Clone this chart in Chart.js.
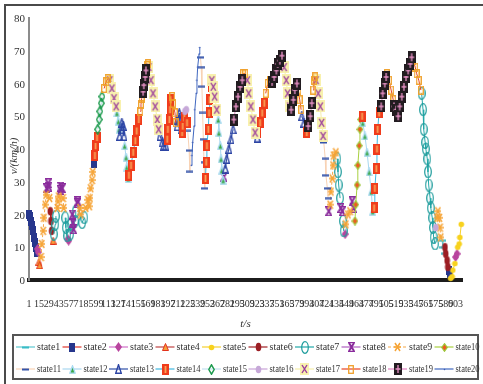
<!DOCTYPE html>
<html>
<head>
<meta charset="utf-8">
<script src="https://cdn.jsdelivr.net/npm/chart.js@4.4.1/dist/chart.umd.min.js"></script>
<style>
  html, body { margin: 0; padding: 0; background: #fff; }
  #wrap { position: relative; width: 483px; height: 384px; overflow: hidden; }
  canvas { display: block; }
  .ytick { position: absolute; font: 11px "Liberation Serif"; line-height: 14px; color: #333; text-align: right; width: 20px; }
</style>
</head>
<body>
<div id="wrap"><canvas id="speedChart" width="483" height="384"></canvas></div>
<script>
// state labels
const stateNames = ['state1', 'state2', 'state3', 'state4', 'state5', 'state6', 'state7', 'state8', 'state9', 'state10',
  'state11', 'state12', 'state13', 'state14', 'state15', 'state16', 'state17', 'state18', 'state19', 'state20'];

// x tick labels (sample index) and y ticks
const tickLabels = [1, 15, 29, 43, 57, 71, 85, 99, 113, 127, 141, 155, 169, 183, 197, 211, 225, 239, 253, 267, 281, 295,
  309, 323, 337, 351, 365, 379, 393, 407, 421, 435, 449, 463, 477, 491, 505, 519, 533, 547, 561, 575, 589, 603];
const yTicks = [0, 10, 20, 30, 40, 50, 60, 70, 80];

// speed curve split into runs, each run belongs to one state
const runState = [2, 3, 4, 9, 8, 9, 6, 4, 7, 9, 8, 9, 7, 3, 7, 8, 7, 8, 9, 7, 9, 2, 14, 15, 18, 17, 12, 13, 12, 14,
  18, 19, 18, 17, 13, 14, 18, 13, 14, 16, 14, 11, 20, 11, 14, 17, 12, 8, 13, 19, 18, 17, 13, 14, 18, 19, 17, 19, 18,
  13, 14, 19, 18, 17, 11, 8, 9, 7, 8, 7, 3, 9, 8, 10, 14, 12, 14, 19, 18, 19, 18, 19, 18, 7, 16, 9, 1, 6, 2, 5, 3, 5];

const runTime = [
  [1, 2, 4, 5, 7, 8, 9, 11, 12], [13, 14], [15, 16], [18, 19, 21, 22, 24, 25], [26, 28, 29], [30], [31, 32, 33], [35],
  [36, 38, 39], [41, 42, 43], [45, 46, 48], [49, 50], [52, 53, 55], [56, 57], [59, 60], [62, 63, 64], [66, 67], [69, 70],
  [73, 74], [76, 79], [81, 84, 86, 87, 88, 90, 91], [93], [94, 95, 97], [98, 100, 101, 103, 104], [107, 110, 112],
  [115, 118, 121, 124], [125, 127, 128], [129, 131, 132, 134, 135], [136, 138, 139, 141], [142, 145, 148, 151, 153, 156],
  [158, 159, 160], [162, 163, 165, 166], [168, 169], [170, 173, 176, 179, 182, 184], [186, 189, 191, 194],
  [196, 197, 199, 200, 201], [203, 204, 207, 208], [210, 211, 213, 214, 216], [217, 218, 220], [221, 223], [224],
  [225, 227, 228], [230, 231, 232, 234, 235, 237, 238, 239, 241, 242], [243, 244, 245, 246, 247, 248, 249],
  [250, 251, 252, 254, 255, 256, 258], [259, 261, 263, 266], [268, 269, 271, 272, 273, 275], [276],
  [278, 280, 283, 286, 289], [290, 293, 296, 299, 302], [303, 306], [309, 311, 314, 317, 320], [323],
  [324, 327, 330, 333], [335, 338, 341], [344, 347, 350, 352, 355, 358], [361, 364, 366, 369], [371, 374, 376, 379],
  [381, 383, 385], [386, 389, 392], [393], [395, 398, 400], [402, 403, 405], [406, 409, 412, 414, 416],
  [417, 419, 420, 422, 423], [424], [426, 427, 429, 430, 431, 434], [436, 437, 438, 440], [441, 443], [444, 445], [447],
  [448, 451, 454], [457, 459], [461, 462, 464, 465, 467, 468, 469], [471], [472, 475, 478, 481, 484, 486],
  [488, 489, 491, 492, 493, 495], [498, 500, 503, 505], [506, 509, 512, 515], [516, 519], [520],
  [522, 524, 527, 530, 533, 536, 539, 541], [543, 546, 548, 551, 554],
  [555, 557, 558, 560, 561, 563, 564, 565, 567, 568, 570, 571, 572, 574], [575], [577, 578, 580, 581, 582],
  [584, 585, 587], [588, 589, 591, 592], [594, 595], [596, 598, 599, 602], [603, 605], [606, 608, 609, 611]
];

const runSpeed = [
  [20, 19.5, 18, 16.5, 15, 13, 11.5, 10, 8.5], [9.5, 8.5], [5.5, 4.5], [7, 11, 15, 19, 23, 26], [28, 29.5, 28.5], [25],
  [21, 18, 15], [12], [14, 17, 19.5], [22, 24, 25.5], [27.5, 28.5, 28], [25, 22], [19, 16, 13.5], [12.5, 12], [14, 17],
  [20, 17.5, 15.5], [18, 21], [23.5, 24], [22, 20], [17.5, 19], [22, 24.5, 22.5, 25, 28, 30.5, 33], [35.5],
  [38, 41, 43.5], [46, 49, 51.5, 54, 56], [58.5, 60.5, 61.5], [61, 58.5, 55.5, 53], [51, 48.5, 46], [44, 46, 48, 47, 44],
  [41, 37.5, 34.5, 31], [32, 35, 39, 42.5, 45.5, 49], [51.5, 53.5, 55.5], [57.5, 59.5, 62, 64], [65.5, 66],
  [65, 61, 57, 53, 49, 46], [44, 42, 41, 41], [43, 46, 49, 52, 55], [56, 54, 51, 48], [47, 49, 51, 49, 46],
  [45, 47, 49.5], [51.5, 52], [48], [45.5, 39.5, 33], [35, 38, 42, 47, 52, 57, 61, 65, 69, 71],
  [68, 65, 59, 51, 43, 36, 28], [31, 36, 41, 46, 51, 55, 59], [61, 59, 56, 52], [49, 45, 41, 37, 33.5, 30.5], [31.5],
  [34, 37, 40, 43, 46], [49, 53, 56, 59, 61], [63, 63], [61, 57, 53, 49, 45], [43.5], [45, 48, 51, 54], [57, 60, 61],
  [60.5, 62, 64, 66, 67, 68.5], [65, 61, 57, 53], [52, 55, 58, 60], [58, 55, 52], [50, 48, 46], [45], [47, 50, 54],
  [58, 61, 62], [61, 57, 53, 48, 44], [42, 37, 32, 28, 25], [21], [23, 27, 31, 35, 38, 39], [37, 33, 29, 25], [22, 21],
  [18, 15], [14], [17, 20, 21], [24, 22], [18, 23, 29, 35, 41, 46, 49], [50], [48, 44, 39, 33, 27, 21],
  [22, 28, 34, 40, 46, 51], [53, 57, 60, 62], [63, 61, 58, 55], [53, 52], [50], [50, 53, 56, 59, 62, 64, 66, 68],
  [67, 65, 63, 61, 58], [57, 52, 46, 42, 40, 37, 33, 29, 25, 22, 19, 16, 13, 11], [16], [19, 21, 19, 16, 13],
  [12, 10, 8], [10, 8, 6, 4], [3, 2], [0.5, 1, 3, 5], [7, 8], [10, 11, 13, 17]
];

const lineColors = ['#5cc8d0', '#e03a30', '#d070c8', '#c04444', '#f6d030', '#a02024', '#22a8a8', '#b060c0', '#f6a848',
  '#a8d040', '#f8d2b4', '#a8d8f0', '#3050a8', '#40b8e0', '#c4e2f0', '#c8a2d8', '#f6eeaa', '#e84422', '#e282c2', '#4068c0'];

// small canvases used as point markers
function marker(w, h, paint) {
  const c = document.createElement('canvas');
  c.width = w;
  c.height = h;
  paint(c.getContext('2d'), w, h);
  return c;
}
function ellipse(g, w, h) {
  g.beginPath();
  g.ellipse(w / 2, h / 2, Math.max(w / 2 - 0.7, 0.8), Math.max(h / 2 - 0.7, 0.8), 0, 0, Math.PI * 2);
}
function diamond(g, w, h, m) {
  g.beginPath();
  g.moveTo(w / 2, m); g.lineTo(w - m, h / 2); g.lineTo(w / 2, h - m); g.lineTo(m, h / 2);
  g.closePath();
}
function tri(g, w, h, m) {
  g.beginPath();
  g.moveTo(w / 2, m); g.lineTo(w - m, h - m); g.lineTo(m, h - m);
  g.closePath();
}
function cross(g, w, h, m) {
  g.beginPath();
  g.moveTo(m, m); g.lineTo(w - m, h - m);
  g.moveTo(w - m, m); g.lineTo(m, h - m);
  g.stroke();
}

const markers = [
  marker(7, 3, g => { g.fillStyle = '#38bcc6'; g.fillRect(0, 0.5, 7, 2); }),
  marker(6, 9, g => { g.fillStyle = '#26368c'; g.fillRect(0, 0, 6, 9); }),
  marker(7, 10, (g, w, h) => { diamond(g, w, h, 0); g.fillStyle = '#b8449e'; g.fill(); }),
  marker(7, 8, (g, w, h) => { tri(g, w, h, 0.5); g.fillStyle = '#f6a03a'; g.fill(); g.strokeStyle = '#e2321c'; g.lineWidth = 1; g.stroke(); }),
  marker(7, 7, (g, w, h) => { ellipse(g, w, h); g.fillStyle = '#f8d21e'; g.fill(); }),
  marker(7, 10, (g, w, h) => { ellipse(g, w, h); g.fillStyle = '#9c1e24'; g.fill(); }),
  marker(8, 13, (g, w, h) => { ellipse(g, w, h); g.strokeStyle = '#1e9c9c'; g.lineWidth = 1.2; g.stroke(); }),
  marker(7, 10, (g, w, h) => {
    g.strokeStyle = '#8a2c9c'; g.lineWidth = 2; cross(g, w, h, 1);
    g.lineWidth = 1.3; g.beginPath(); g.moveTo(0, 0.7); g.lineTo(w, 0.7); g.moveTo(0, h - 0.7); g.lineTo(w, h - 0.7); g.stroke();
  }),
  marker(7, 10, (g, w, h) => {
    g.strokeStyle = '#f6a436'; g.lineWidth = 1.5; cross(g, w, h, 1);
    g.beginPath(); g.moveTo(0, h / 2); g.lineTo(w, h / 2); g.stroke();
  }),
  marker(7, 9, (g, w, h) => { diamond(g, w, h, 0.7); g.fillStyle = '#ee5a22'; g.fill(); g.strokeStyle = '#9cc83a'; g.lineWidth = 1.2; g.stroke(); }),
  marker(7, 3, g => { g.fillStyle = '#3454aa'; g.fillRect(0, 0.5, 7, 2); }),
  marker(7, 9, (g, w, h) => { tri(g, w, h, 0.8); g.fillStyle = '#3aa844'; g.fill(); g.strokeStyle = '#aadaf2'; g.lineWidth = 1.3; g.stroke(); }),
  marker(7, 10, (g, w, h) => { tri(g, w, h, 0.7); g.strokeStyle = '#2c44a4'; g.lineWidth = 1.4; g.stroke(); }),
  marker(7, 11, (g, w, h) => { g.fillStyle = '#f03c1c'; g.fillRect(0, 0, w, h); g.fillStyle = '#f8a458'; g.fillRect(2.6, 2, 1.8, h - 4); }),
  marker(7, 11, (g, w, h) => { diamond(g, w, h, 0.8); g.strokeStyle = '#1c9a4c'; g.lineWidth = 1.5; g.stroke(); }),
  marker(7, 9, (g, w, h) => { ellipse(g, w, h); g.fillStyle = '#c6a8d8'; g.fill(); }),
  marker(9, 12, (g, w, h) => { g.fillStyle = '#f8f1ae'; g.fillRect(0, 0, w, h); g.strokeStyle = '#9a3a9c'; g.lineWidth = 1.4; cross(g, w, h, 2); }),
  marker(6, 9, (g, w, h) => { g.strokeStyle = '#f0a02a'; g.lineWidth = 1.3; g.strokeRect(0.7, 0.7, w - 1.4, h - 1.4); }),
  marker(8, 12, (g, w, h) => {
    g.fillStyle = '#221c20'; g.fillRect(0, 0, w, h);
    g.strokeStyle = '#ea92c8'; g.lineWidth = 1.3; g.beginPath();
    g.moveTo(w / 2, 2); g.lineTo(w / 2, h - 2); g.moveTo(1.5, h / 2); g.lineTo(w - 1.5, h / 2); g.stroke();
  }),
  marker(3, 3, (g, w, h) => { ellipse(g, w, h); g.fillStyle = '#3a5ab4'; g.fill(); })
];

// one dataset per state, runs separated by null gaps
const datasets = stateNames.map((name, k) => {
  const s = k + 1;
  const pts = [];
  runState.forEach((rs, r) => {
    if (rs !== s) return;
    if (pts.length) pts.push({ x: runTime[r][0] - 0.5, y: null });
    runTime[r].forEach((tt, j) => pts.push({ x: tt, y: runSpeed[r][j] }));
  });
  return {
    label: name,
    data: pts,
    borderColor: lineColors[k],
    backgroundColor: lineColors[k],
    borderWidth: 1,
    borderDash: s === 9 ? [3, 2] : [],
    pointStyle: markers[k],
    pointRadius: 3,
    pointHoverRadius: 3,
    tension: 0,
    spanGaps: false,
    clip: false,
    order: 21 - s
  };
});

const decorations = {
  id: 'decorations',
  beforeDraw(chart) {
    const ctx = chart.ctx;
    ctx.save();
    ctx.fillStyle = '#fff';
    ctx.fillRect(0, 0, chart.width, chart.height);
    // outer frame
    ctx.strokeStyle = '#4a4a4a';
    ctx.lineWidth = 2;
    ctx.beginPath();
    ctx.moveTo(5, chart.height);
    ctx.lineTo(5, 5);
    ctx.lineTo(chart.width, 5);
    ctx.stroke();
    ctx.restore();
  },
  afterDraw(chart) {
    const ctx = chart.ctx;
    const area = chart.chartArea;
    ctx.save();

    // axis titles
    ctx.fillStyle = '#333';
    ctx.font = 'italic 11px "Liberation Serif"';
    ctx.textAlign = 'center';
    ctx.textBaseline = 'middle';
    ctx.fillText('t/s', (area.left + area.right) / 2, area.bottom + 44);
    ctx.save();
    ctx.translate(14, (area.top + area.bottom) / 2 + 7);
    ctx.rotate(-Math.PI / 2);
    ctx.fillText('v/(km/h)', 0, 0);
    ctx.restore();

    // legend box
    ctx.strokeStyle = '#555';
    ctx.lineWidth = 2;
    ctx.strokeRect(13, 335, 465, 44);
    ctx.font = '10px "Liberation Serif"';
    ctx.textAlign = 'left';
    stateNames.forEach((name, k) => {
      const col = k % 10;
      const row = Math.floor(k / 10);
      const x0 = 16 + col * 46.5;
      const y = row ? 369 : 347;
      ctx.strokeStyle = lineColors[k];
      ctx.lineWidth = 1.2;
      ctx.setLineDash(k === 8 ? [3, 2] : []);
      ctx.beginPath();
      ctx.moveTo(x0, y);
      ctx.lineTo(x0 + 19, y);
      ctx.stroke();
      ctx.setLineDash([]);
      const m = markers[k];
      ctx.drawImage(m, Math.round(x0 + 9.5 - m.width / 2), Math.round(y - m.height / 2));
      ctx.fillStyle = '#333';
      ctx.fillText(name, x0 + 21, y + 0.5, 24);
    });
    ctx.restore();
  }
};

const chart = new Chart(document.getElementById('speedChart'), {
  type: 'line',
  data: { datasets },
  options: {
    responsive: false,
    animation: false,
    events: [],
    layout: { padding: { top: 18, right: 21, left: 0, bottom: 0 } },
    plugins: {
      legend: { display: false },
      tooltip: { enabled: false }
    },
    scales: {
      x: {
        type: 'linear',
        min: 1,
        max: 612,
        grid: { display: false, drawTicks: false },
        border: { display: true, color: '#1c1c1c', width: 4 },
        ticks: {
          autoSkip: false,
          maxRotation: 0,
          minRotation: 0,
          padding: 18,
          color: '#333',
          font: { family: 'Liberation Serif', size: 10 },
          callback: v => String(v)
        },
        afterBuildTicks: scale => { scale.ticks = tickLabels.map(v => ({ value: v })); },
        afterFit: scale => { scale.height = 104; }
      },
      y: {
        min: 0,
        max: 80,
        grid: { display: false, drawTicks: false },
        border: { display: true, color: '#8c8c8c', width: 2 },
        ticks: { display: false },
        afterBuildTicks: scale => { scale.ticks = yTicks.map(v => ({ value: v })); },
        afterFit: scale => { scale.width = 29; }
      }
    }
  },
  plugins: [decorations]
});

// y tick labels as text placed from the y scale
const wrap = document.getElementById('wrap');
const yScale = chart.scales.y;
yTicks.forEach(v => {
  const el = document.createElement('div');
  el.className = 'ytick';
  el.textContent = String(v);
  el.style.left = (chart.chartArea.left - 24) + 'px';
  el.style.top = (yScale.getPixelForValue(v) - 7) + 'px';
  wrap.appendChild(el);
});
</script>
</body>
</html>
